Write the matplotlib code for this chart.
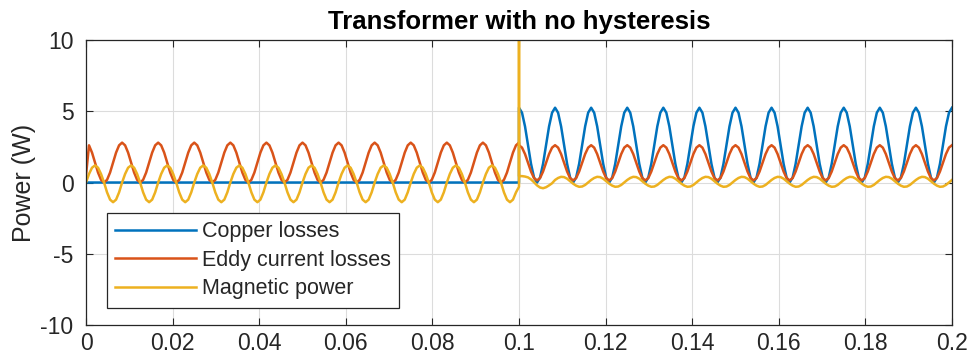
import numpy as np
import matplotlib
matplotlib.use("Agg")
import matplotlib.pyplot as plt

# sample spacing of the simulation trace (12 samples per 120 Hz period)
t_step = 1 / 1440
t_jump = 0.1

# values, 0 .. 0.1 s
copper_pre = [
    0.0, 0.0, 0.0, 0.0, 0.0, 0.0, 0.0, 0.0, 0.0, 0.0, 0.0, 0.0,
    0.0, 0.0, 0.0, 0.0, 0.0, 0.0, 0.0, 0.0, 0.0, 0.0, 0.0, 0.0,
    0.0, 0.0, 0.0, 0.0, 0.0, 0.0, 0.0, 0.0, 0.0, 0.0, 0.0, 0.0,
    0.0, 0.0, 0.0, 0.0, 0.0, 0.0, 0.0, 0.0, 0.0, 0.0, 0.0, 0.0,
    0.0, 0.0, 0.0, 0.0, 0.0, 0.0, 0.0, 0.0, 0.0, 0.0, 0.0, 0.0,
    0.0, 0.0, 0.0, 0.0, 0.0, 0.0, 0.0, 0.0, 0.0, 0.0, 0.0, 0.0,
    0.0, 0.0, 0.0, 0.0, 0.0, 0.0, 0.0, 0.0, 0.0, 0.0, 0.0, 0.0,
    0.0, 0.0, 0.0, 0.0, 0.0, 0.0, 0.0, 0.0, 0.0, 0.0, 0.0, 0.0,
    0.0, 0.0, 0.0, 0.0, 0.0, 0.0, 0.0, 0.0, 0.0, 0.0, 0.0, 0.0,
    0.0, 0.0, 0.0, 0.0, 0.0, 0.0, 0.0, 0.0, 0.0, 0.0, 0.0, 0.0,
    0.0, 0.0, 0.0, 0.0, 0.0, 0.0, 0.0, 0.0, 0.0, 0.0, 0.0, 0.0,
    0.0, 0.0, 0.0, 0.0, 0.0, 0.0, 0.0, 0.0, 0.0, 0.0, 0.0, 0.0,
    0.0,
]
eddy_pre = [
    0.50, 2.61, 2.10, 1.40, 0.70, 0.19, 0.00, 0.19, 0.70, 1.40, 2.10, 2.61,
    2.80, 2.61, 2.10, 1.40, 0.70, 0.19, 0.00, 0.19, 0.70, 1.40, 2.10, 2.61,
    2.80, 2.61, 2.10, 1.40, 0.70, 0.19, 0.00, 0.19, 0.70, 1.40, 2.10, 2.61,
    2.80, 2.61, 2.10, 1.40, 0.70, 0.19, 0.00, 0.19, 0.70, 1.40, 2.10, 2.61,
    2.80, 2.61, 2.10, 1.40, 0.70, 0.19, 0.00, 0.19, 0.70, 1.40, 2.10, 2.61,
    2.80, 2.61, 2.10, 1.40, 0.70, 0.19, 0.00, 0.19, 0.70, 1.40, 2.10, 2.61,
    2.80, 2.61, 2.10, 1.40, 0.70, 0.19, 0.00, 0.19, 0.70, 1.40, 2.10, 2.61,
    2.80, 2.61, 2.10, 1.40, 0.70, 0.19, 0.00, 0.19, 0.70, 1.40, 2.10, 2.61,
    2.80, 2.61, 2.10, 1.40, 0.70, 0.19, 0.00, 0.19, 0.70, 1.40, 2.10, 2.61,
    2.80, 2.61, 2.10, 1.40, 0.70, 0.19, 0.00, 0.19, 0.70, 1.40, 2.10, 2.61,
    2.80, 2.61, 2.10, 1.40, 0.70, 0.19, 0.00, 0.19, 0.70, 1.40, 2.10, 2.61,
    2.80, 2.61, 2.10, 1.40, 0.70, 0.19, 0.00, 0.19, 0.70, 1.40, 2.10, 2.61,
    2.80,
]
magnetic_pre = [
    0.00, 0.60, 1.04, 1.20, 1.04, 0.60, 0.00, -0.69, -1.20, -1.38, -1.20, -0.69,
    0.00, 0.60, 1.04, 1.20, 1.04, 0.60, 0.00, -0.69, -1.20, -1.38, -1.20, -0.69,
    0.00, 0.60, 1.04, 1.20, 1.04, 0.60, 0.00, -0.69, -1.20, -1.38, -1.20, -0.69,
    0.00, 0.60, 1.04, 1.20, 1.04, 0.60, 0.00, -0.69, -1.20, -1.38, -1.20, -0.69,
    0.00, 0.60, 1.04, 1.20, 1.04, 0.60, 0.00, -0.69, -1.20, -1.38, -1.20, -0.69,
    0.00, 0.60, 1.04, 1.20, 1.04, 0.60, 0.00, -0.69, -1.20, -1.38, -1.20, -0.69,
    0.00, 0.60, 1.04, 1.20, 1.04, 0.60, 0.00, -0.69, -1.20, -1.38, -1.20, -0.69,
    0.00, 0.60, 1.04, 1.20, 1.04, 0.60, 0.00, -0.69, -1.20, -1.38, -1.20, -0.69,
    0.00, 0.60, 1.04, 1.20, 1.04, 0.60, 0.00, -0.69, -1.20, -1.38, -1.20, -0.69,
    0.00, 0.60, 1.04, 1.20, 1.04, 0.60, 0.00, -0.69, -1.20, -1.38, -1.20, -0.69,
    0.00, 0.60, 1.04, 1.20, 1.04, 0.60, 0.00, -0.69, -1.20, -1.38, -1.20, -0.69,
    0.00, 0.60, 1.04, 1.20, 1.04, 0.60, 0.00, -0.69, -1.20, -1.38, -1.20, -0.69,
    -0.30,
]

# value drawn right at the switching instant t = 0.1 s
copper_jump = 5.25
eddy_jump = 2.70
magnetic_jump = 14.0

# 0.1 .. 0.2 s
copper_post = [
    5.25, 4.90, 3.94, 2.63, 1.31, 0.35, 0.00, 0.35, 1.31, 2.63, 3.94, 4.90,
    5.25, 4.90, 3.94, 2.63, 1.31, 0.35, 0.00, 0.35, 1.31, 2.63, 3.94, 4.90,
    5.25, 4.90, 3.94, 2.63, 1.31, 0.35, 0.00, 0.35, 1.31, 2.63, 3.94, 4.90,
    5.25, 4.90, 3.94, 2.63, 1.31, 0.35, 0.00, 0.35, 1.31, 2.63, 3.94, 4.90,
    5.25, 4.90, 3.94, 2.63, 1.31, 0.35, 0.00, 0.35, 1.31, 2.63, 3.94, 4.90,
    5.25, 4.90, 3.94, 2.63, 1.31, 0.35, 0.00, 0.35, 1.31, 2.63, 3.94, 4.90,
    5.25, 4.90, 3.94, 2.63, 1.31, 0.35, 0.00, 0.35, 1.31, 2.63, 3.94, 4.90,
    5.25, 4.90, 3.94, 2.63, 1.31, 0.35, 0.00, 0.35, 1.31, 2.63, 3.94, 4.90,
    5.25, 4.90, 3.94, 2.63, 1.31, 0.35, 0.00, 0.35, 1.31, 2.63, 3.94, 4.90,
    5.25, 4.90, 3.94, 2.63, 1.31, 0.35, 0.00, 0.35, 1.31, 2.63, 3.94, 4.90,
    5.25, 4.90, 3.94, 2.63, 1.31, 0.35, 0.00, 0.35, 1.31, 2.63, 3.94, 4.90,
    5.25, 4.90, 3.94, 2.63, 1.31, 0.35, 0.00, 0.35, 1.31, 2.63, 3.94, 4.90,
    5.25,
]
eddy_post = [
    2.62, 2.45, 2.00, 1.39, 0.77, 0.31, 0.15, 0.31, 0.77, 1.39, 2.00, 2.45,
    2.62, 2.45, 2.00, 1.39, 0.77, 0.31, 0.15, 0.31, 0.77, 1.39, 2.00, 2.45,
    2.62, 2.45, 2.00, 1.39, 0.77, 0.31, 0.15, 0.31, 0.77, 1.39, 2.00, 2.45,
    2.62, 2.45, 2.00, 1.39, 0.77, 0.31, 0.15, 0.31, 0.77, 1.39, 2.00, 2.45,
    2.62, 2.45, 2.00, 1.39, 0.77, 0.31, 0.15, 0.31, 0.77, 1.39, 2.00, 2.45,
    2.62, 2.45, 2.00, 1.39, 0.77, 0.31, 0.15, 0.31, 0.77, 1.39, 2.00, 2.45,
    2.62, 2.45, 2.00, 1.39, 0.77, 0.31, 0.15, 0.31, 0.77, 1.39, 2.00, 2.45,
    2.62, 2.45, 2.00, 1.39, 0.77, 0.31, 0.15, 0.31, 0.77, 1.39, 2.00, 2.45,
    2.62, 2.45, 2.00, 1.39, 0.77, 0.31, 0.15, 0.31, 0.77, 1.39, 2.00, 2.45,
    2.62, 2.45, 2.00, 1.39, 0.77, 0.31, 0.15, 0.31, 0.77, 1.39, 2.00, 2.45,
    2.62, 2.45, 2.00, 1.39, 0.77, 0.31, 0.15, 0.31, 0.77, 1.39, 2.00, 2.45,
    2.62, 2.45, 2.00, 1.39, 0.77, 0.31, 0.15, 0.31, 0.77, 1.39, 2.00, 2.45,
    2.62,
]
magnetic_post = [
    0.45, 0.45, 0.42, 0.36, 0.22, 0.02, -0.20, -0.35, -0.40, -0.33, -0.20, -0.05,
    0.18, 0.32, 0.40, 0.38, 0.27, 0.10, -0.08, -0.22, -0.30, -0.28, -0.17, 0.00,
    0.18, 0.32, 0.40, 0.38, 0.27, 0.10, -0.08, -0.22, -0.30, -0.28, -0.17, 0.00,
    0.18, 0.32, 0.40, 0.38, 0.27, 0.10, -0.08, -0.22, -0.30, -0.28, -0.17, 0.00,
    0.18, 0.32, 0.40, 0.38, 0.27, 0.10, -0.08, -0.22, -0.30, -0.28, -0.17, 0.00,
    0.18, 0.32, 0.40, 0.38, 0.27, 0.10, -0.08, -0.22, -0.30, -0.28, -0.17, 0.00,
    0.18, 0.32, 0.40, 0.38, 0.27, 0.10, -0.08, -0.22, -0.30, -0.28, -0.17, 0.00,
    0.18, 0.32, 0.40, 0.38, 0.27, 0.10, -0.08, -0.22, -0.30, -0.28, -0.17, 0.00,
    0.18, 0.32, 0.40, 0.38, 0.27, 0.10, -0.08, -0.22, -0.30, -0.28, -0.17, 0.00,
    0.18, 0.32, 0.40, 0.38, 0.27, 0.10, -0.08, -0.22, -0.30, -0.28, -0.17, 0.00,
    0.18, 0.32, 0.40, 0.38, 0.27, 0.10, -0.08, -0.22, -0.30, -0.28, -0.17, 0.00,
    0.18, 0.32, 0.40, 0.38, 0.27, 0.10, -0.08, -0.22, -0.30, -0.28, -0.17, 0.00,
    0.18,
]

series_labels = ["Copper losses", "Eddy current losses", "Magnetic power"]
x_ticks = [0, 0.02, 0.04, 0.06, 0.08, 0.1, 0.12, 0.14, 0.16, 0.18, 0.2]
x_tick_labels = ["0", "0.02", "0.04", "0.06", "0.08", "0.1",
                 "0.12", "0.14", "0.16", "0.18", "0.2"]
y_ticks = [-10, -5, 0, 5, 10]

plt.rcParams["font.family"] = ["Liberation Sans", "DejaVu Sans"]
plt.rcParams["axes.unicode_minus"] = False

t_pre = np.arange(len(copper_pre)) * t_step
t_post = t_jump + np.arange(len(copper_post)) * t_step
t = np.concatenate([t_pre, [t_jump], t_post])

def join(pre, jump, post):
    return np.concatenate([pre, [jump], post])

curves = [
    join(copper_pre, copper_jump, copper_post),
    join(eddy_pre, eddy_jump, eddy_post),
    join(magnetic_pre, magnetic_jump, magnetic_post),
]
colors = ["#0072BD", "#D95319", "#EDB120"]
dark = "#262626"

fig = plt.figure(figsize=(9.74, 3.64), dpi=100)
ax = fig.add_axes([0.0883, 0.1071, 0.8891, 0.7829])

for y, c, lab in zip(curves, colors, series_labels):
    ax.plot(t, y, color=c, lw=1.8, label=lab)

ax.set_xlim(0, 0.2)
ax.set_ylim(-10, 10)
ax.set_xticks(x_ticks)
ax.set_xticklabels(x_tick_labels)
ax.set_yticks(y_ticks)
ax.grid(True, color="#dcdcdc", lw=0.8)
ax.set_axisbelow(True)
for s in ax.spines.values():
    s.set_color(dark)
    s.set_linewidth(0.9)
ax.tick_params(direction="in", top=True, right=True, length=5, width=0.8,
               color=dark, labelcolor=dark, labelsize=16.5)
ax.tick_params(axis="y", pad=9)
ax.tick_params(axis="x", pad=5)

ax.set_title("Transformer with no hysteresis", fontsize=18.5, fontweight="bold",
             color="black", pad=8)
ax.set_ylabel("Power (W)", fontsize=18, color=dark, labelpad=3)

leg = ax.legend(loc="lower left", bbox_to_anchor=(0.024, 0.06), borderaxespad=0,
                fontsize=15.5, handlelength=3.75, handletextpad=0.25,
                labelspacing=0.35, borderpad=0.4, fancybox=False, framealpha=1)
leg.get_frame().set_edgecolor(dark)
leg.get_frame().set_linewidth(0.9)
for txt in leg.get_texts():
    txt.set_color(dark)

fig.savefig("out.png", dpi=100)
